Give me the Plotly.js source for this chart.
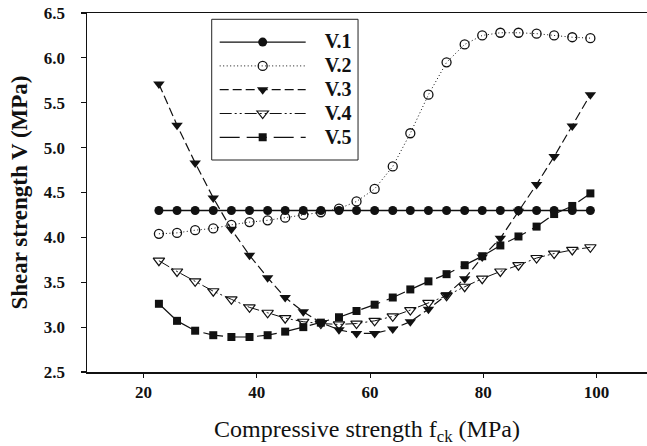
<!DOCTYPE html>
<html>
<head>
<meta charset="utf-8">
<script src="https://cdn.plot.ly/plotly-3.0.1.min.js"></script>
<style>
  html, body { margin: 0; padding: 0; background: #fff; }
  #chart { width: 647px; height: 446px; }
</style>
</head>
<body>
<div id="chart"></div>
<script>
// Compressive strength fck (MPa)
var fck = [22.7, 25.9, 29.1, 32.3, 35.5, 38.7, 41.9, 45.0, 48.2, 51.3, 54.5, 57.6, 60.8,
           64.0, 67.1, 70.3, 73.5, 76.7, 79.8, 83.0, 86.2, 89.4, 92.5, 95.7, 98.9];

var seriesNames = ["V.1", "V.2", "V.3", "V.4", "V.5"];

var v1 = [4.30, 4.30, 4.30, 4.30, 4.30, 4.30, 4.30, 4.30, 4.30, 4.30, 4.30, 4.30, 4.30,
          4.30, 4.30, 4.30, 4.30, 4.30, 4.30, 4.30, 4.30, 4.30, 4.30, 4.30, 4.30];
var v2 = [4.04, 4.05, 4.08, 4.10, 4.14, 4.17, 4.19, 4.22, 4.25, 4.28, 4.32, 4.40, 4.54,
          4.79, 5.16, 5.59, 5.95, 6.15, 6.25, 6.28, 6.28, 6.27, 6.25, 6.23, 6.22];
var v3 = [5.71, 5.25, 4.83, 4.44, 4.09, 3.80, 3.55, 3.33, 3.17, 3.05, 2.97, 2.93, 2.93,
          2.98, 3.06, 3.20, 3.36, 3.54, 3.78, 3.99, 4.29, 4.59, 4.90, 5.24, 5.59];
var v4 = [3.74, 3.62, 3.51, 3.40, 3.31, 3.22, 3.16, 3.10, 3.06, 3.04, 3.03, 3.04, 3.07,
          3.12, 3.19, 3.27, 3.35, 3.45, 3.54, 3.62, 3.69, 3.77, 3.82, 3.86, 3.89];
var v5 = [3.26, 3.07, 2.96, 2.91, 2.89, 2.89, 2.91, 2.95, 3.00, 3.05, 3.11, 3.18, 3.25,
          3.33, 3.42, 3.51, 3.59, 3.69, 3.79, 3.91, 4.01, 4.12, 4.26, 4.35, 4.49];

var xTickVals = [20, 40, 60, 80, 100];
var yTickVals = [2.5, 3.0, 3.5, 4.0, 4.5, 5.0, 5.5, 6.0, 6.5];

var ink = "#111111";

function legendName(s) {
  return '<span style="font-size:20px">\u2002\u2009' + s + '</span>';
}

var traces = [
  {x: fck, y: v1, name: legendName(seriesNames[0]), mode: "lines+markers",
   line: {color: ink, width: 1.4},
   marker: {symbol: "circle", size: 9, color: ink}},
  {x: fck, y: v2, name: legendName(seriesNames[1]), mode: "lines+markers",
   line: {color: ink, width: 1, dash: "1px,2.5px"},
   marker: {symbol: "circle-open", size: 9, color: ink, line: {width: 1.3, color: ink}}},
  {x: fck, y: v3, name: legendName(seriesNames[2]), mode: "lines+markers",
   line: {color: ink, width: 1.2, dash: "9px,4px"},
   marker: {symbol: "triangle-down", size: 10, color: ink}},
  {x: fck, y: v4, name: legendName(seriesNames[3]), mode: "lines+markers",
   line: {color: ink, width: 1, dash: "12px,3px,2px,3px,2px,3px"},
   marker: {symbol: "triangle-down-open", size: 10, color: ink, line: {width: 1.2, color: ink}}},
  {x: fck, y: v5, name: legendName(seriesNames[4]), mode: "lines+markers",
   line: {color: ink, width: 1.2, dash: "20px,7px"},
   marker: {symbol: "square", size: 8, color: ink}}
];

var layout = {
  width: 647, height: 446,
  paper_bgcolor: "#ffffff", plot_bgcolor: "#ffffff",
  margin: {l: 87, r: 0, t: 13, b: 74},
  showlegend: true,
  legend: {
    x: 0.228, y: 0.966, xanchor: "left", yanchor: "top",
    bgcolor: "rgba(0,0,0,0)", borderwidth: 0,
    font: {family: "Liberation Serif", size: 16, color: ink, weight: "bold"},
    itemwidth: 86, itemsizing: "trace"
  },
  shapes: [
    {type: "rect", xref: "paper", yref: "paper", layer: "above",
     x0: 0.2227, x1: 0.484, y0: 0.5905, y1: 0.9825,
     line: {color: "#222222", width: 1}, fillcolor: "#ffffff"}
  ],
  xaxis: {
    range: [10, 108.9], tickvals: xTickVals, ticktext: xTickVals.map(String),
    showgrid: false, zeroline: false,
    showline: true, linecolor: ink, linewidth: 1.5, mirror: true,
    ticks: "outside", ticklen: 4, tickwidth: 1.2, tickcolor: ink,
    ticklabelstandoff: 0,
    tickfont: {family: "Liberation Serif", size: 17, color: ink, weight: "bold"},
    title: {text: "Compressive strength f<sub>ck</sub> (MPa)",
            font: {family: "Liberation Serif", size: 24, color: ink}, standoff: 21}
  },
  yaxis: {
    range: [2.5, 6.5], tickvals: yTickVals, ticktext: yTickVals.map(function(v){return v.toFixed(1);}),
    showgrid: false, zeroline: false,
    showline: true, linecolor: ink, linewidth: 1.5, mirror: false,
    ticks: "outside", ticklen: 5, tickwidth: 1.2, tickcolor: ink,
    ticklabelstandoff: 12,
    tickfont: {family: "Liberation Serif", size: 17, color: ink, weight: "bold"},
    title: {text: "Shear strength V (MPa)",
            font: {family: "Liberation Serif", size: 23, color: ink, weight: "bold"}, standoff: 10}
  }
};

Plotly.newPlot("chart", traces, layout, {displayModeBar: false, staticPlot: true});
</script>
</body>
</html>
